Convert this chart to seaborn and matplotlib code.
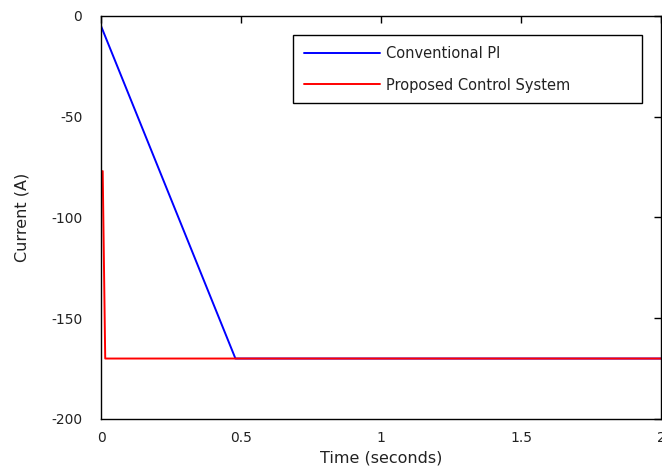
import numpy as np
import pandas as pd
import matplotlib
matplotlib.use("Agg")
import matplotlib.pyplot as plt
import seaborn as sns

# Data
pi_time = [0.0, 0.48, 2.0]
pi_current = [-5.0, -170.0, -170.0]
prop_time = [0.006, 0.015, 2.0]
prop_current = [-77.0, -170.0, -170.0]
series_names = ["Conventional PI", "Proposed Control System"]
x_ticks = [0, 0.5, 1, 1.5, 2]
x_tick_labels = ["0", "0.5", "1", "1.5", "2"]
y_ticks = [0, -50, -100, -150, -200]
y_tick_labels = ["0", "-50", "-100", "-150", "-200"]

df = pd.concat([
    pd.DataFrame({"t": pi_time, "i": pi_current, "s": series_names[0]}),
    pd.DataFrame({"t": prop_time, "i": prop_current, "s": series_names[1]}),
])

sns.set_style("white")
plt.rcParams['font.family'] = ['DejaVu Sans']

fig = plt.figure(figsize=(6.62, 4.72), dpi=100)
ax = fig.add_axes([0.1526, 0.1123, 0.846, 0.854])

sns.lineplot(data=df, x="t", y="i", hue="s", sort=False, estimator=None,
             palette={series_names[0]: "#0000ff", series_names[1]: "#ff0000"},
             linewidth=1.4, ax=ax)

ax.set_xlim(0, 2)
ax.set_ylim(-200, 0)
ax.set_xticks(x_ticks)
ax.set_xticklabels(x_tick_labels)
ax.set_yticks(y_ticks)
ax.set_yticklabels(y_tick_labels)
ax.tick_params(direction="in", top=True, right=True, length=5, width=1,
               labelsize=10, color="black", labelcolor="#222222")
ax.tick_params(axis="x", pad=9)
ax.tick_params(axis="y", pad=13.5)
for sp in ax.spines.values():
    sp.set_visible(True)
    sp.set_color("black")
    sp.set_linewidth(1.0)
ax.set_xlabel("Time (seconds)", fontsize=11.5, color="#222222")
ax.set_ylabel("Current (A)", fontsize=11.5, color="#222222")
ax.xaxis.set_label_coords(0.5, -0.079)
ax.yaxis.set_label_coords(-0.127, 0.5)

leg = ax.legend(loc="upper left", bbox_to_anchor=(0.343, 0.784, 0.623, 0.169),
                mode="expand", borderaxespad=0, fontsize=10.5,
                frameon=True, fancybox=False, edgecolor="black", framealpha=1,
                handlelength=5.2, handletextpad=0.4, borderpad=0.75, labelspacing=1.15,
                title=None)
leg.get_frame().set_linewidth(1.0)
for t in leg.get_texts():
    t.set_color("#222222")

fig.savefig("out.png", dpi=100)
